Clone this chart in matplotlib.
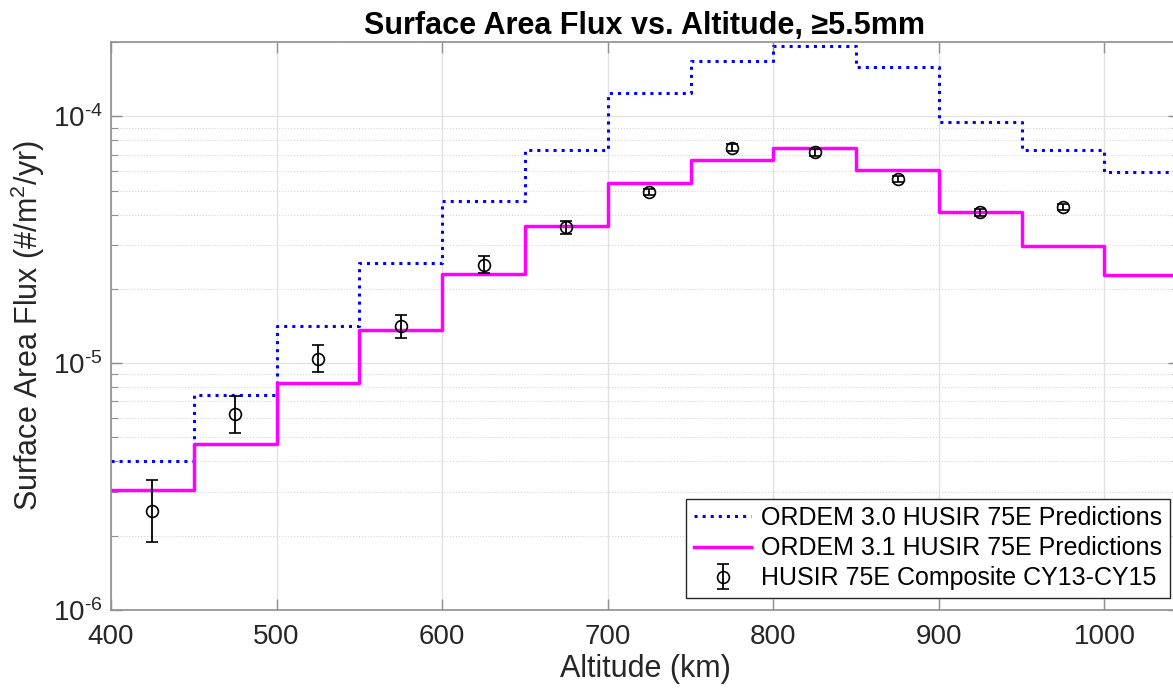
import numpy as np
import matplotlib.pyplot as plt
from matplotlib.ticker import FuncFormatter

plt.rcParams['font.family'] = ['Liberation Sans', 'DejaVu Sans']
plt.rcParams['mathtext.fontset'] = 'custom'
plt.rcParams['mathtext.rm'] = 'Liberation Sans'
plt.rcParams['axes.unicode_minus'] = False

# Altitude bins (km), lower edges
bin_edges = [400, 450, 500, 550, 600, 650, 700, 750, 800, 850, 900, 950, 1000, 1050]

# ORDEM model predictions per bin (#/m^2/yr)
ordem30 = [4.0e-6, 7.45e-6, 1.42e-5, 2.55e-5, 4.54e-5, 7.32e-5, 1.24e-4,
           1.68e-4, 1.92e-4, 1.585e-4, 9.48e-5, 7.32e-5, 5.96e-5]
ordem31 = [3.05e-6, 4.71e-6, 8.3e-6, 1.36e-5, 2.30e-5, 3.60e-5, 5.36e-5,
           6.67e-5, 7.44e-5, 6.04e-5, 4.08e-5, 2.97e-5, 2.27e-5]

# HUSIR composite measurements at bin centres
husir_alt = [425, 475, 525, 575, 625, 675, 725, 775, 825, 875, 925, 975]
husir_flux = [2.52e-6, 6.21e-6, 1.04e-5, 1.41e-5, 2.50e-5, 3.55e-5, 4.95e-5,
              7.46e-5, 7.14e-5, 5.58e-5, 4.08e-5, 4.30e-5]
husir_lo = [1.89e-6, 5.23e-6, 9.22e-6, 1.27e-5, 2.32e-5, 3.33e-5, 4.81e-5,
            7.22e-5, 6.92e-5, 5.42e-5, 3.93e-5, 4.18e-5]
husir_hi = [3.37e-6, 7.37e-6, 1.19e-5, 1.57e-5, 2.71e-5, 3.78e-5, 5.09e-5,
            7.71e-5, 7.36e-5, 5.75e-5, 4.23e-5, 4.42e-5]

fig = plt.figure(figsize=(11.73, 6.91), dpi=100)
ax = fig.add_axes([111/1173, 81/691, 1068/1173, 568/691])

# stairs: repeat last value so the final bin is drawn
ax.step(bin_edges, ordem30 + [ordem30[-1]], where='post', color='blue',
        ls=':', lw=2.2, label='ORDEM 3.0 HUSIR 75E Predictions')
ax.step(bin_edges, ordem31 + [ordem31[-1]], where='post', color='magenta',
        ls='-', lw=2.5, label='ORDEM 3.1 HUSIR 75E Predictions')

flux = np.array(husir_flux)
yerr = [flux - np.array(husir_lo), np.array(husir_hi) - flux]
ax.errorbar(husir_alt, flux, yerr=yerr, fmt='o', mfc='none', mec='black',
            ms=8.5, mew=1.2, ecolor='black', elinewidth=1.3, capsize=4,
            capthick=1.3, label='HUSIR 75E Composite CY13-CY15')

ax.set_yscale('log')
ax.set_xlim(400, 1045)
ax.set_ylim(1e-6, 2e-4)
ax.set_xticks([400, 500, 600, 700, 800, 900, 1000])
ax.yaxis.set_major_formatter(
    FuncFormatter(lambda v, p: '$\\mathregular{10^{\u2010%d}}$' % round(-np.log10(v))))

ax.grid(True, which='major', color='#e2e2e2', lw=1.0, ls='-')
ax.grid(True, which='minor', axis='y', color='#d6d6d6', lw=0.8, ls=':')
ax.set_axisbelow(True)

for sp in ax.spines.values():
    sp.set_color('#909090')
    sp.set_linewidth(1.2)
ax.tick_params(which='both', direction='in', top=True, right=True,
               colors='#909090', labelcolor='#262626', labelsize=20)
ax.tick_params(which='major', length=8, width=1.0)
ax.tick_params(which='minor', length=5, width=0.8)
ax.tick_params(axis='x', which='minor', top=False, bottom=False)
ax.tick_params(axis='x', pad=10)
ax.tick_params(axis='y', pad=6)

ax.set_xlabel('Altitude (km)', fontsize=22, color='#262626', labelpad=3)
ax.set_ylabel('Surface Area Flux (#/m$^2$/yr)', fontsize=22, color='#262626', labelpad=4)
ax.set_title('Surface Area Flux vs. Altitude, \u22655.5mm', fontsize=22,
             fontweight='bold', pad=6)

leg = ax.legend(loc='lower right', bbox_to_anchor=(1170/1173, 93/691),
                bbox_transform=fig.transFigure, fontsize=18, fancybox=False,
                framealpha=1, edgecolor='#262626', borderpad=0.3,
                labelspacing=0.25, handlelength=2.3, handletextpad=0.4,
                borderaxespad=0)
leg.get_frame().set_linewidth(1.0)

fig.savefig('out.png', dpi=100)
